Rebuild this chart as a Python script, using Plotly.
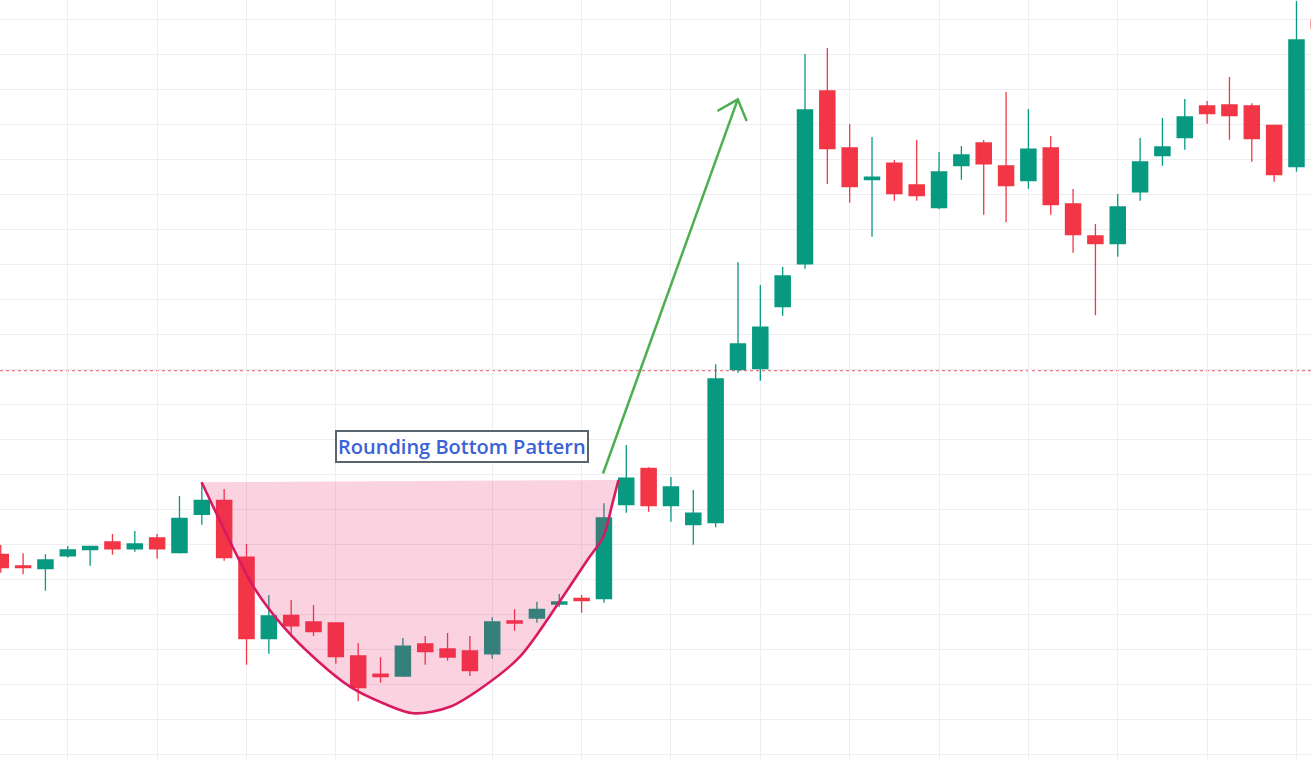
"""Rounding bottom pattern on a candlestick chart"""
import plotly.graph_objs as go

# candle index (one per session)
sessions = list(range(60))

open_ = [128.61, 126.94, 126.56, 128.41, 129.27, 130.37, 129.41, 130.94, 128.84, 134.33,
         136.33, 128.19, 116.56, 119.90, 118.94, 118.80, 114.09, 111.51, 111.23, 115.80,
         115.09, 114.80, 114.41, 119.09, 119.51, 121.51, 122.33, 122.27, 135.70, 140.90,
         135.56, 132.84, 133.13, 154.99, 155.14, 163.99, 170.09, 194.80, 186.66, 182.13,
         184.51, 181.37, 178.13, 184.13, 187.37, 184.09, 181.99, 186.66, 178.66, 174.09,
         172.99, 180.41, 185.56, 188.13, 192.66, 192.80, 192.66, 189.90, 183.99, 204.94]
high = [129.94, 128.76, 128.61, 129.80, 129.84, 131.51, 131.94, 131.51, 136.94, 138.94,
        137.94, 130.09, 122.80, 122.09, 121.37, 118.80, 115.90, 113.90, 116.66, 116.94,
        117.37, 116.94, 119.61, 120.76, 121.84, 122.94, 122.80, 135.90, 144.23, 141.04,
        139.66, 137.80, 155.76, 170.33, 167.09, 169.66, 200.09, 200.94, 190.04, 188.23,
        184.94, 187.80, 186.09, 186.94, 187.80, 194.66, 192.23, 188.37, 180.80, 175.80,
        180.09, 188.09, 190.94, 193.66, 193.37, 196.80, 193.04, 189.90, 207.66, 206.00]
low = [125.99, 125.76, 123.41, 128.13, 126.99, 128.56, 128.99, 127.99, 128.73, 132.84,
       127.70, 112.84, 114.41, 116.84, 116.94, 112.99, 107.61, 110.27, 111.09, 112.84,
       113.41, 111.23, 113.70, 117.70, 118.84, 121.09, 120.27, 121.70, 134.56, 134.70,
       133.27, 129.99, 132.47, 154.56, 153.41, 162.70, 169.41, 181.51, 178.84, 173.99,
       179.13, 179.13, 177.90, 182.13, 177.13, 176.04, 180.84, 177.13, 171.70, 162.76,
       171.13, 179.13, 184.13, 186.41, 190.13, 187.84, 184.70, 181.84, 183.27, 202.50]
close = [126.70, 126.70, 127.80, 129.23, 129.76, 129.41, 130.09, 129.41, 133.76, 136.33,
         128.13, 116.56, 119.80, 118.41, 117.56, 113.99, 109.56, 111.13, 115.51, 114.70,
         113.94, 111.99, 118.94, 118.80, 120.76, 121.80, 121.99, 133.80, 139.51, 135.56,
         138.23, 134.51, 153.66, 158.66, 161.07, 168.37, 192.09, 186.56, 181.13, 182.51,
         180.13, 179.84, 183.23, 185.66, 184.41, 181.27, 186.51, 178.56, 174.27, 172.99,
         178.23, 184.66, 186.80, 191.09, 191.56, 191.27, 187.99, 182.84, 202.09, 203.80]

# vertical grid falls on these sessions (time boundaries)
grid_sessions = [3, 7, 11, 15, 22, 26, 30, 34, 38, 42, 46, 50, 54, 58]

# last price line
price_line = 154.84

# hand drawn rounding bottom (session, price)
bowl_x = [8.99, 10.52, 11.31, 12.65, 14.14, 15.63, 17.12, 18.47, 20.11, 21.60,
          23.24, 24.94, 26.26, 26.97, 27.38, 27.65]
bowl_y = [138.90, 128.76, 123.99, 118.27, 113.51, 109.70, 107.33, 105.90, 106.84, 109.70,
          113.99, 121.51, 127.80, 131.13, 135.90, 139.23]

# breakout arrow: tail, tip and the two head strokes
arrow_tail = (26.96, 140.16)
arrow_tip = (32.99, 193.61)
arrow_wing_l = (32.08, 191.94)
arrow_wing_r = (33.39, 190.51)

label = 'Rounding Bottom Pattern'
label_pos = (20.66, 144.06)

GREEN = '#089981'
RED = '#f23645'

bowl_fill = go.Scatter(
    x=bowl_x, y=bowl_y,
    mode='lines',
    line=dict(width=0, shape='spline', smoothing=0.9),
    fill='toself',
    fillcolor='rgba(233, 30, 99, 0.2)',
    hoverinfo='skip',
    showlegend=False,
)

candles = go.Candlestick(
    x=sessions, open=open_, high=high, low=low, close=close,
    increasing=dict(line=dict(color=GREEN, width=1.3), fillcolor=GREEN),
    decreasing=dict(line=dict(color=RED, width=1.3), fillcolor=RED),
    showlegend=False,
)

bowl_line = go.Scatter(
    x=bowl_x, y=bowl_y,
    mode='lines',
    line=dict(color='#d81b60', width=2.6, shape='spline', smoothing=0.9),
    hoverinfo='skip',
    showlegend=False,
)

arrow = go.Scatter(
    x=[arrow_tail[0], arrow_tip[0], None, arrow_wing_l[0], arrow_tip[0], arrow_wing_r[0]],
    y=[arrow_tail[1], arrow_tip[1], None, arrow_wing_l[1], arrow_tip[1], arrow_wing_r[1]],
    mode='lines',
    line=dict(color='#4caf50', width=2.5),
    hoverinfo='skip',
    showlegend=False,
)

fig = go.Figure(data=[bowl_fill, candles, bowl_line, arrow])

fig.update_layout(
    width=1311, height=761,
    margin=dict(l=0, r=0, t=0, b=0),
    paper_bgcolor='white', plot_bgcolor='white',
    boxgap=0.32, boxgroupgap=0,
    hovermode=False,
    xaxis=dict(range=[-0.034, 58.65], tickvals=grid_sessions, showticklabels=False,
               gridcolor='#eceef2', gridwidth=1, zeroline=False, showline=False,
               rangeslider=dict(visible=False)),
    yaxis=dict(range=[99.086, 207.8], tick0=0, dtick=5, showticklabels=False,
               gridcolor='#eceef2', gridwidth=1, zeroline=False, showline=False),
    shapes=[dict(type='line', xref='paper', x0=0, x1=1, yref='y', y0=price_line, y1=price_line,
                 line=dict(color='#e4575f', width=1, dash='dot'), layer='below')],
    annotations=[dict(x=label_pos[0], y=label_pos[1], text=label, showarrow=False,
                      font=dict(family='Open Sans', size=20, color='#3a62d6', weight=600),
                      bgcolor='white', bordercolor='#5b656e', borderwidth=2, borderpad=1)],
)

fig.write_html('out.html', config={'displayModeBar': False},
               post_script="document.body.style.margin='0';")
